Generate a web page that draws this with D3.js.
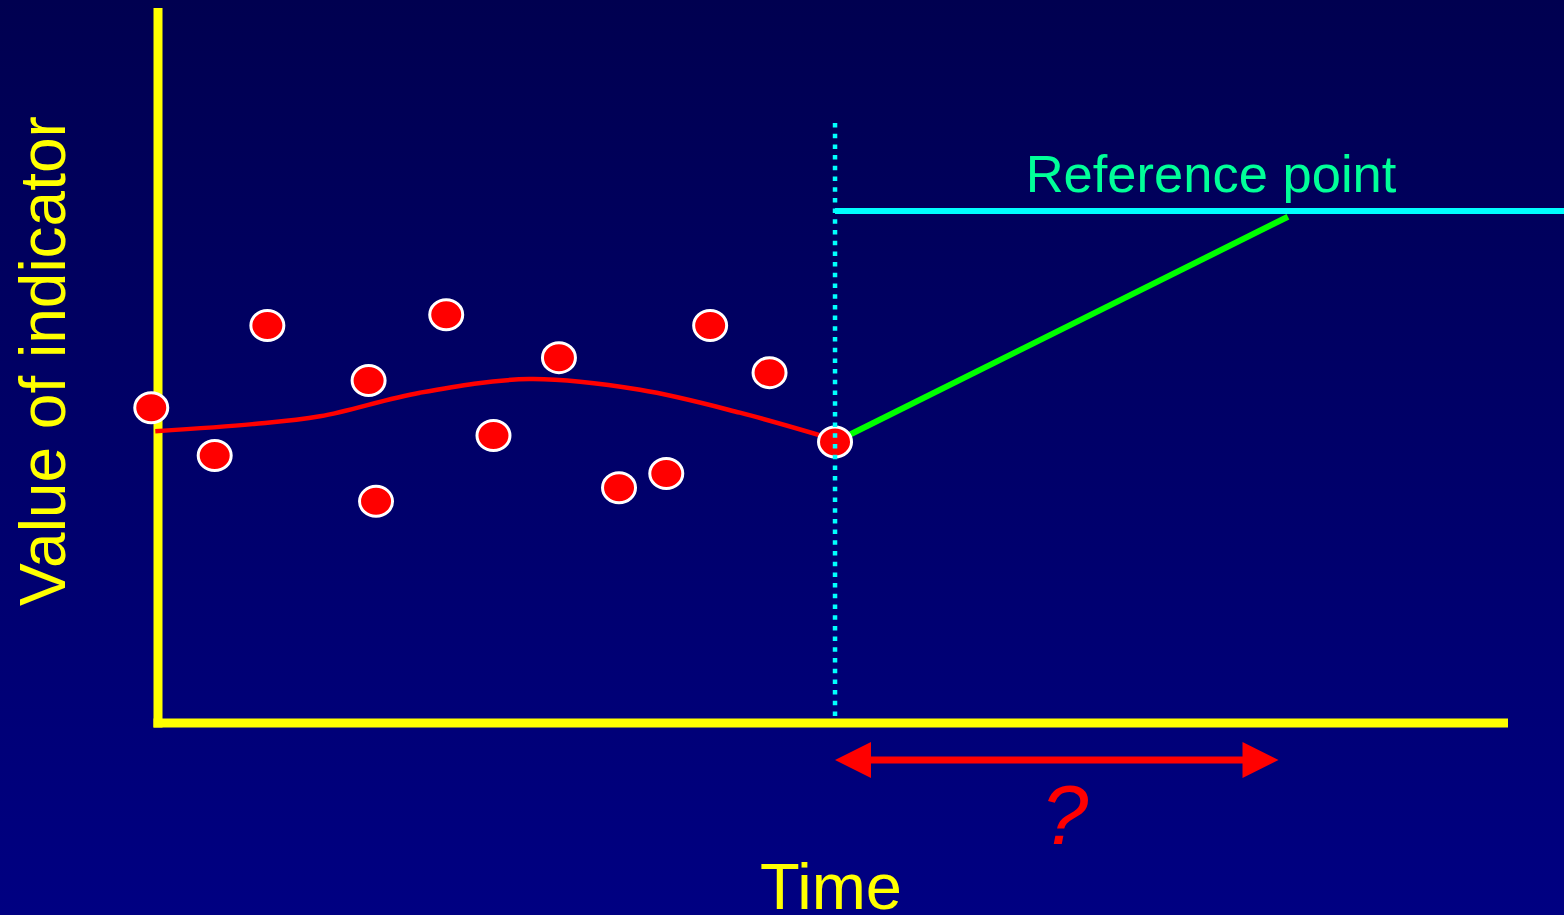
<!DOCTYPE html>
<html>
<head>
<meta charset="utf-8">
<script src="https://cdn.jsdelivr.net/npm/d3@7"></script>
<style>
html,body{margin:0;padding:0;overflow:hidden;background:#000060;}
svg{display:block;}
</style>
</head>
<body>
<script>
// ---- data (time units, indicator units) ----
const obsTime  = [-0.1, 0.84, 1.62, 3.12, 3.23, 4.27, 4.97, 5.94, 6.83, 7.53, 8.18, 9.06, 10.03];
const obsValue = [44.1, 37.4, 55.6, 47.9, 31.0, 57.1, 40.2, 51.1, 32.9, 34.9, 55.6, 49.0, 39.3];
const trendTime  = [-0.04, 1.4, 2.4, 3.88, 5.5, 7.14, 8.62, 10.0];
const trendValue = [40.8, 41.8, 42.9, 46.2, 48.1, 46.6, 43.4, 39.7];
const projTime  = [10.03, 16.74];
const projValue = [39.3, 70.8];
const refValue = 71.6;
const refTimeStart = 10.03;
const nowTime = 10.03;
const arrowTime = [10.03, 16.6];
const labels = {y: "Value of indicator", x: "Time", ref: "Reference point", q: "?"};

const W = 1564, H = 915;
const svg = d3.select("body").append("svg").attr("width", W).attr("height", H);
const defs = svg.append("defs");
const grad = defs.append("linearGradient").attr("id","bg").attr("x1",0).attr("y1",0).attr("x2",0).attr("y2",1);
grad.append("stop").attr("offset","0%").attr("stop-color","#000050");
grad.append("stop").attr("offset","100%").attr("stop-color","#000082");
svg.append("rect").attr("width",W).attr("height",H).attr("fill","url(#bg)");

const x = d3.scaleLinear().domain([0, 20]).range([158, 1508]);
const y = d3.scaleLinear().domain([0, 100]).range([723, 8]);

const font = "Arial, 'Liberation Sans', Helvetica, sans-serif";

// axes (drawn under the marks)
svg.append("line").attr("x1", x(0)).attr("x2", x(0)).attr("y1", y(100)).attr("y2", y(0)+4.5)
  .attr("stroke","#ffff00").attr("stroke-width",9);
svg.append("line").attr("x1", x(0)-4.5).attr("x2", x(20)).attr("y1", y(0)).attr("y2", y(0))
  .attr("stroke","#ffff00").attr("stroke-width",9);

// reference line
svg.append("line")
  .attr("x1", x(refTimeStart)).attr("x2", W)
  .attr("y1", y(refValue)).attr("y2", y(refValue))
  .attr("stroke", "#00ffff").attr("stroke-width", 6);

svg.append("text").attr("x", 1211).attr("y", 192)
  .attr("text-anchor","middle").attr("font-family",font).attr("font-size",52.5)
  .attr("fill","#00ff99").text(labels.ref);

// projection line
svg.append("line")
  .attr("x1", x(projTime[0])).attr("y1", y(projValue[0]))
  .attr("x2", x(projTime[1])).attr("y2", y(projValue[1]))
  .attr("stroke", "#00ff00").attr("stroke-width", 6);

// trend curve
const trend = trendTime.map((t,i)=>[t, trendValue[i]]);
svg.append("path")
  .attr("d", d3.line().x(d=>x(d[0])).y(d=>y(d[1])).curve(d3.curveCatmullRom.alpha(0.5))(trend))
  .attr("fill","none").attr("stroke","#ff0000").attr("stroke-width",4.5);

// observations
const obs = obsTime.map((t,i)=>[t, obsValue[i]]);
svg.selectAll("ellipse.obs").data(obs).enter().append("ellipse")
  .attr("cx", d=>x(d[0])).attr("cy", d=>y(d[1]))
  .attr("rx", 16.5).attr("ry", 15)
  .attr("fill","#ff0000").attr("stroke","#ffffff").attr("stroke-width",3);

// vertical dotted "now" line
svg.append("line")
  .attr("x1", x(nowTime)).attr("x2", x(nowTime))
  .attr("y1", 123).attr("y2", 719)
  .attr("stroke","#00ffff").attr("stroke-width",4.5)
  .attr("stroke-dasharray","4.5 6.2");

// double arrow
const ay = 760;
const ax1 = x(arrowTime[0]), ax2 = x(arrowTime[1]);
svg.append("line").attr("x1", ax1+30).attr("x2", ax2-30).attr("y1", ay).attr("y2", ay)
  .attr("stroke","#ff0000").attr("stroke-width",7);
svg.append("path").attr("d", `M${ax1},${ay} L${ax1+36},${ay-18} L${ax1+36},${ay+18} Z`).attr("fill","#ff0000");
svg.append("path").attr("d", `M${ax2},${ay} L${ax2-36},${ay-18} L${ax2-36},${ay+18} Z`).attr("fill","#ff0000");

svg.append("text").attr("x", (ax1+ax2)/2 + 8).attr("y", 844)
  .attr("text-anchor","middle").attr("font-family",font).attr("font-size",84)
  .attr("font-style","italic").attr("fill","#ff0000").text(labels.q);

// axis titles
svg.append("text").attr("x", 831).attr("y", 909)
  .attr("text-anchor","middle").attr("font-family",font).attr("font-size",65)
  .attr("fill","#ffff00").text(labels.x);
svg.append("text").attr("transform","translate(65,361) rotate(-90)")
  .attr("text-anchor","middle").attr("font-family",font).attr("font-size",64)
  .attr("fill","#ffff00").text(labels.y);
</script>
</body>
</html>
